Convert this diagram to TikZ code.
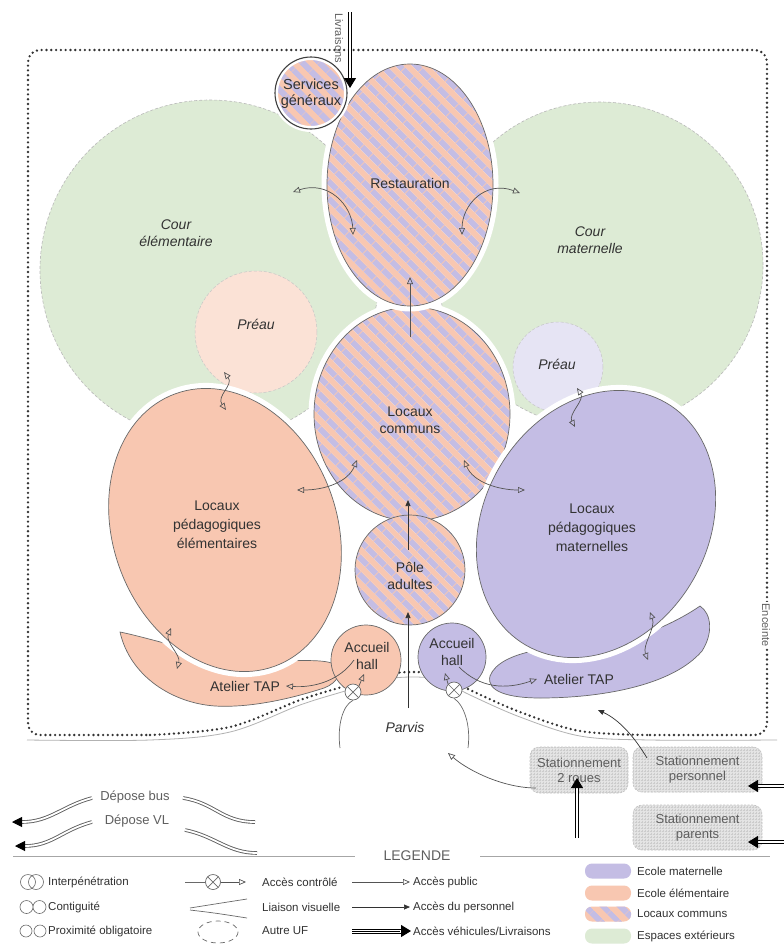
\documentclass[tikz,border=0pt]{standalone}
\usepackage{fontspec}
\setmainfont{Liberation Sans}
\usetikzlibrary{patterns.meta,arrows.meta,shapes.geometric}
\definecolor{lav}{RGB}{196,189,228}
\definecolor{sal}{RGB}{248,199,177}
\definecolor{grn}{RGB}{221,235,213}
\definecolor{salL}{RGB}{251,226,214}
\definecolor{lavL}{RGB}{230,228,244}
\definecolor{edgeg}{RGB}{105,105,105}
\definecolor{txt}{RGB}{50,50,50}
\definecolor{txtg}{RGB}{95,95,95}
\definecolor{parkg}{RGB}{228,228,228}
\begin{document}
\begin{tikzpicture}[x=1pt,y=-1pt,
  lbl/.style={font=\fontsize{14}{17}\selectfont, text=txt, align=center, inner sep=0pt},
  ilbl/.style={font=\fontsize{14}{17}\selectfont\itshape, text=txt, align=center, inner sep=0pt},
  glbl/.style={font=\fontsize{13}{15}\selectfont, text=txtg, align=center, inner sep=0pt},
  leg/.style={font=\fontsize{11.5}{13}\selectfont, text=txt, anchor=west, inner sep=0pt},
  halo/.style={preaction={draw=white, line width=11pt}},
  hatch/.style={preaction={fill=sal}, preaction={pattern={Lines[angle=-45,distance=13pt,line width=6.5pt]}, pattern color=lav}},
  zone/.style={draw=edgeg, line width=0.7pt, inner sep=0pt, outer sep=0pt},
  cour/.style={circle, fill=grn, draw=gray!55, dash pattern=on 3pt off 2pt, line width=0.6pt, inner sep=0pt},
  preau/.style={circle, draw=gray!45, dash pattern=on 3pt off 2pt, line width=0.5pt, inner sep=0pt},
  pub/.style={draw=edgeg!80!black, line width=0.7pt, -{Triangle[open,length=7pt,width=6pt]}},
  pubb/.style={draw=edgeg!80!black, line width=0.7pt, {Triangle[open,length=7pt,width=6pt]}-{Triangle[open,length=7pt,width=6pt]}},
  pers/.style={draw=txt, line width=0.7pt, -{Triangle[length=6pt,width=5pt]}},
  veh/.style={draw=black, line width=1pt, double=white, double distance=2.5pt, -{Triangle[length=10pt,width=12pt]}},
  dep/.style={draw=gray!75!black, line width=0.9pt, double=white, double distance=1.8pt},
  depa/.style={dep, -{Triangle[length=10pt,width=10pt,color=black]}},
  ench/.style={draw=black!80, line width=2.6pt, line cap=round, dash pattern=on 0pt off 4.8pt},
  park/.style={rectangle, rounded corners=9pt, fill=parkg, draw=gray!50, dash pattern=on 2pt off 1.5pt, line width=0.6pt, postaction={pattern={Hatch[angle=0,distance=3pt,line width=0.25pt]}, pattern color=gray!40}, align=center, font=\fontsize{13}{15}\selectfont, text=txtg, inner sep=0pt},
  xacc/.style={circle, draw=edgeg, fill=white, line width=0.7pt, minimum size=16pt, inner sep=0pt, path picture={\draw[edgeg, line width=0.7pt] (path picture bounding box.north west) -- (path picture bounding box.south east) (path picture bounding box.north east) -- (path picture bounding box.south west);}},
  swatch/.style={rectangle, rounded corners=7pt, minimum width=46pt, minimum height=15pt, inner sep=0pt},
]
\useasboundingbox (0,0) rectangle (784,945);
\fill[white] (0,0) rectangle (784,945);

% cours
\node[cour, minimum size=340pt] (coure) at (210,270) {};
\node[cour, minimum size=326pt] (courm) at (600,265) {};
% preaux
\node[preau, fill=salL, minimum size=122pt] (preaue) at (256,332) {};
\node[preau, fill=lavL, minimum size=90pt] (preaum) at (558,367) {};
% locaux communs
\node[ellipse, zone, halo, hatch, minimum width=196pt, minimum height=214pt] (lc) at (412,414) {};
% restauration
\node[ellipse, zone, halo, hatch, minimum width=166pt, minimum height=242pt] (rest) at (410,185) {};
% services generaux
\node[circle, zone, hatch, preaction={draw=white, line width=6pt}, draw=black!75, line width=1.1pt, minimum size=72pt] (serv) at (311,93) {};
% ateliers TAP (drawn under the halos of the large ellipses)
\draw[zone, fill=sal] (120,632) .. controls (150,638) and (200,655) .. (250,660) .. controls (290,662) and (322,658) .. (334,664) .. controls (344,670) and (338,683) .. (324,688) .. controls (290,699) and (250,708) .. (215,706) .. controls (172,703) and (130,676) .. (120,632) -- cycle;
\draw[zone, fill=lav] (490,676) .. controls (500,650) and (560,645) .. (600,645) .. controls (640,640) and (680,620) .. (700,606) .. controls (712,614) and (713,634) .. (702,651) .. controls (672,686) and (600,698) .. (540,698) .. controls (510,698) and (486,692) .. (490,676) -- cycle;
% locaux pedagogiques
\node[ellipse, zone, halo, fill=sal, minimum width=224pt, minimum height=290pt, rotate=20] (elem) at (225,530) {};
\node[ellipse, zone, halo, fill=lav, minimum width=224pt, minimum height=280pt, rotate=-30] (mat) at (596,524) {};
% pole adultes
\node[circle, zone, hatch, minimum size=110pt] (pole) at (410,570) {};

% enceinte
\draw[gray!60, line width=0.8pt] plot[smooth, tension=0.55] coordinates {(27,740) (150,740) (230,732) (300,705) (345,691) (380,680) (412,677) (440,680) (470,695) (520,717) (580,736) (650,740) (777,740)};
\draw[ench] plot[smooth, tension=0.55] coordinates {(150,735) (230,727) (300,700) (345,686) (380,675) (412,672) (440,675) (470,690) (520,712) (580,731) (650,735)};
\draw[ench, rounded corners=12pt] (650,735) -- (767,735) -- (767,50) -- (28,50) -- (28,735) -- (150,735);
\node[font=\fontsize{11}{12}\selectfont, text=txtg, fill=white, rotate=-90, inner sep=2pt] (tenc) at (766,625) {Enceinte};

% accueils
\node[circle, zone, fill=sal, minimum size=70pt] (acce) at (366,660) {};
\node[circle, zone, fill=lav, minimum size=68pt] (accm) at (452,657) {};
\node[xacc] (xl) at (353,692) {};
\node[xacc] (xr) at (454,690) {};

% livraisons
\coordinate (liv1) at (350,12);
\coordinate (liv2) at (350,88);
\draw[veh] (liv1) -- (liv2);
\node[font=\fontsize{11}{12}\selectfont, text=txtg, rotate=-90, inner sep=0pt] (tliv) at (339,38) {Livraisons};

% connectors
\coordinate (r1) at (293,192); \coordinate (r2) at (353,235);
\draw[pubb] (r1) .. controls (328,180) and (352,205) .. (r2);
\coordinate (r3) at (520,193); \coordinate (r4) at (462,235);
\draw[pubb] (r3) .. controls (485,180) and (462,205) .. (r4);
\coordinate (p1) at (224,372); \coordinate (p2) at (226,410);
\draw[pubb] (p1) .. controls (234,385) and (216,396) .. (p2);
\coordinate (p3) at (577,388); \coordinate (p4) at (575,427);
\draw[pubb] (p3) .. controls (585,400) and (568,414) .. (p4);
\coordinate (l1) at (357,460); \coordinate (l2) at (297,490);
\draw[pubb] (l1) .. controls (348,482) and (325,490) .. (l2);
\coordinate (l3) at (464,460); \coordinate (l4) at (525,490);
\draw[pubb] (l3) .. controls (473,482) and (498,490) .. (l4);
\coordinate (t1) at (171,628); \coordinate (t2) at (177,669);
\draw[pubb] (t1) .. controls (165,642) and (181,655) .. (t2);
\coordinate (t3) at (650,612); \coordinate (t4) at (648,660);
\draw[pubb] (t3) .. controls (656,628) and (642,645) .. (t4);
\coordinate (h1) at (354,660); \coordinate (h2) at (286,686);
\draw[pub] (h1) .. controls (340,680) and (315,688) .. (h2);
\coordinate (h3) at (459,667); \coordinate (h4) at (537,679);
\draw[pub] (h3) .. controls (480,688) and (505,690) .. (h4);
\coordinate (b1) at (340,748); \coordinate (b2) at (468,748);
\draw[edgeg, line width=0.7pt] (b1) .. controls (337,725) and (343,705) .. (xl.south);
\draw[edgeg, line width=0.7pt] (b2) .. controls (471,725) and (464,705) .. (xr.south);
\coordinate (a1) at (364,674); \coordinate (a2) at (445,673);
\draw[pub] (xl.north east) -- (a1);
\draw[pub] (xr.north west) -- (a2);
\coordinate (v1) at (408,708); \coordinate (v2) at (408,612);
\draw[pers] (v1) -- (v2);
\coordinate (v3) at (408,550); \coordinate (v4) at (408,500);
\draw[pers] (v3) -- (v4);
\coordinate (v5) at (410,337); \coordinate (v6) at (410,277);
\draw[pub] (v5) -- (v6);

% labels
\node[lbl, font=\fontsize{14.5}{16}\selectfont] (tserv) at (311,94) {Services\\généraux};
\node[lbl] (trest) at (410,183) {Restauration};
\node[ilbl] (tcoure) at (176,233) {Cour\\élémentaire};
\node[ilbl] (tcourm) at (590,240) {Cour\\maternelle};
\node[ilbl] (tpre) at (256,324) {Préau};
\node[ilbl] (tprm) at (557,364) {Préau};
\node[lbl] (tlc) at (410,420) {Locaux\\communs};
\node[lbl, font=\fontsize{14}{19}\selectfont] (telem) at (217,525) {Locaux\\pédagogiques\\élémentaires};
\node[lbl, font=\fontsize{14}{19}\selectfont] (tmat) at (592,528) {Locaux\\pédagogiques\\maternelles};
\node[lbl] (tpole) at (410,576) {Pôle\\adultes};
\node[lbl] (tacce) at (367,656) {Accueil\\hall};
\node[lbl] (taccm) at (452,652) {Accueil\\hall};
\node[lbl] (tate) at (245,686) {Atelier TAP};
\node[lbl] (tatm) at (579,679) {Atelier TAP};
\node[ilbl] (tparv) at (405,727) {Parvis};

% parkings
\node[park, minimum width=98pt, minimum height=46pt] (p2r) at (579,770) {Stationnement\\2 roues};
\node[park, minimum width=129pt, minimum height=45pt] (ppe) at (697.5,769.5) {Stationnement\\personnel};
\node[park, minimum width=129pt, minimum height=45pt] (ppa) at (697.5,827.5) {Stationnement\\parents};
\coordinate (s1) at (647,758); \coordinate (s2) at (598,710);
\draw[pers] (s1) .. controls (635,738) and (620,720) .. (s2);
\coordinate (s3) at (536,788); \coordinate (s4) at (448,753);
\draw[pub] (s3) .. controls (505,788) and (470,772) .. (s4);
\coordinate (e1) at (784,786); \coordinate (e2) at (748,786);
\draw[veh] (e1) -- (e2);
\coordinate (e3) at (784,842); \coordinate (e4) at (748,842);
\draw[veh] (e3) -- (e4);
\coordinate (e5) at (577,838); \coordinate (e6) at (577,778);
\draw[veh] (e5) -- (e6);

% depose
\node[glbl] (tdb) at (135,797) {Dépose bus};
\node[glbl] (tdv) at (137,821) {Dépose VL};
\coordinate (d1) at (92,798); \coordinate (d2) at (12,822);
\draw[depa] (d1) .. controls (62,806) and (50,822) .. (d2);
\coordinate (d3) at (183,798); \coordinate (d4) at (255,822);
\draw[dep] (d3) .. controls (215,803) and (222,822) .. (d4);
\coordinate (d5) at (92,822); \coordinate (d6) at (15,846);
\draw[depa] (d5) .. controls (62,830) and (52,846) .. (d6);
\coordinate (d7) at (185,830); \coordinate (d8) at (257,853);
\draw[dep] (d7) .. controls (215,836) and (228,853) .. (d8);

% legend
\node[font=\fontsize{14}{15}\selectfont, text=txtg, inner sep=0pt] (tleg) at (417,856) {LEGENDE};
\coordinate (g1) at (13,856); \coordinate (g2) at (355,856);
\coordinate (g3) at (480,856); \coordinate (g4) at (770,856);
\draw[gray!70, line width=0.8pt] (g1) -- (g2) (g3) -- (g4);

\draw[edgeg, line width=0.6pt] (28,882) circle[radius=7.5] (36,882) circle[radius=7.5];
\draw[edgeg, line width=0.6pt] (26.5,907) circle[radius=6.5] (39.5,907) circle[radius=6.5];
\draw[edgeg, line width=0.6pt] (26,931) circle[radius=6] (40,931) circle[radius=6];
\node[leg] (li1) at (48,882) {Interpénétration};
\node[leg] (li2) at (48,907) {Contiguité};
\node[leg] (li3) at (48,931) {Proximité obligatoire};

\node[xacc, minimum size=15pt] (xleg) at (213,882) {};
\coordinate (k1) at (185,882); \coordinate (k2) at (246,882);
\draw[edgeg, line width=0.7pt] (k1) -- (xleg.west);
\draw[pub] (xleg.east) -- (k2);
\draw[edgeg, line width=0.7pt] (190,908) .. controls (215,904) .. (247,899);
\draw[edgeg, line width=0.7pt] (190,910) .. controls (215,913) .. (247,918);
\draw[edgeg, line width=0.7pt, dash pattern=on 5pt off 4pt] (218,932) ellipse[x radius=20, y radius=11];
\node[leg] (li4) at (262,882) {Accès contrôlé};
\node[leg] (li5) at (262,907) {Liaison visuelle};
\node[leg] (li6) at (262,931) {Autre UF};

\coordinate (k3) at (352,882); \coordinate (k4) at (410,882);
\draw[pub] (k3) -- (k4);
\coordinate (k5) at (352,907); \coordinate (k6) at (410,907);
\draw[pers] (k5) -- (k6);
\coordinate (k7) at (352,931); \coordinate (k8) at (411,931);
\draw[veh, double distance=3pt] (k7) -- (k8);
\draw[black, line width=1pt] (352,931) -- (400,931);
\node[leg] (li7) at (413,882) {Accès public};
\node[leg] (li8) at (413,907) {Accès du personnel};
\node[leg] (li9) at (413,931) {Accès véhicules/Livraisons};

\node[swatch, fill=lav] (sw1) at (608,871) {};
\node[swatch, fill=sal] (sw2) at (608,893) {};
\node[swatch, hatch] (sw3) at (608,914) {};
\node[swatch, fill=grn] (sw4) at (608,936) {};
\node[leg] (li10) at (637,871) {Ecole maternelle};
\node[leg] (li11) at (637,893) {Ecole élémentaire};
\node[leg] (li12) at (637,914) {Locaux communs};
\node[leg] (li13) at (637,936) {Espaces extérieurs};
\end{tikzpicture}
\end{document}
